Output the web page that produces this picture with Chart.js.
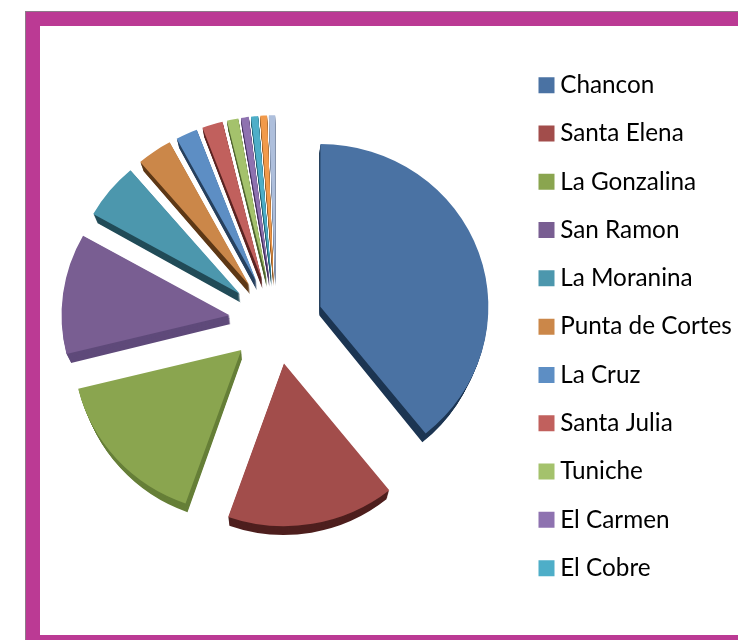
<!DOCTYPE html>
<html><head><meta charset="utf-8">
<style>
html,body{margin:0;padding:0;background:#fff;overflow:hidden;width:738px;height:640px}
#frame{position:absolute;left:26px;top:12px;width:760px;height:609px;border:14px solid #bb3a94;box-shadow:-1px -1px 0 #8d7a88;box-sizing:content-box}
canvas{position:absolute;left:0;top:0}
</style>
<script src="https://cdn.jsdelivr.net/npm/chart.js@4/dist/chart.umd.min.js"></script>
</head><body>
<div id="frame"></div>
<canvas id="c" width="738" height="640"></canvas>
<script>
const categories=["Chancon","Santa Elena","La Gonzalina","San Ramon","La Moranina","Punta de Cortes","La Cruz","Santa Julia","Tuniche","El Carmen","El Cobre","",""];
const shares=[39.3,16.2,15.8,12,5.6,3.4,2.1,2,1.1,0.75,0.7,0.65,0.6];
const faceColors=["#4a72a3","#a24d4b","#8aa54f","#795e92","#4c97ad","#cb8749","#5d8ec4","#c1605d","#a4c26c","#8e72b0","#4eaec8","#f19a4b","#aebfdc"];
const wallColors=["#1c3552","#4e1f1e","#667f38","#5f4a7a","#224c58","#5d3816","#27415f","#5c2523","#4f6330","#43305c","#1f5a6a","#8a5420","#6b7b95"];
const explodeX=46.4, explodeY=44, depthPx=9, squashX=1.012, squashY=0.98, wallShrinkX=0.022;
let pieCx=0, pieCy=0;
const explode={id:'explode',afterDatasetsUpdate(chart){
  chart.getDatasetMeta(0).data.forEach(arc=>{
    pieCx=arc.x; pieCy=arc.y;
    const mid=(arc.startAngle+arc.endAngle)/2;
    arc.x+=Math.cos(mid)*explodeX;
    arc.y+=Math.sin(mid)*explodeY;
  });
}};
const walls={id:'walls',beforeDatasetsDraw(chart){
  const c=chart.ctx;
  c.save();
  c.translate(pieCx,pieCy);c.scale(squashX,squashY);c.translate(-pieCx,-pieCy);
  chart.getDatasetMeta(0).data.forEach((arc,i)=>{
    const w=Object.create(arc);
    w.options=Object.assign({},arc.options,{backgroundColor:wallColors[i],borderWidth:0});
    for(let d=depthPx;d>=1;d--){
      const t=d/depthPx;
      c.save();
      c.translate(pieCx,pieCy+d);
      c.scale(1-wallShrinkX*t,1);
      c.translate(-pieCx,-pieCy);
      w.draw(c);
      c.restore();
    }
  });
},afterDatasetsDraw(chart){chart.ctx.restore();}};
const legendShift={id:'legendShift',afterLayout(chart){
  const l=chart.legend;const dx=521-l.left;
  l.left+=dx;l.right+=dx;l.top+=47;l.bottom+=47;
}};
new Chart(document.getElementById('c'),{
  type:'pie',
  data:{labels:categories,datasets:[{data:shares,backgroundColor:faceColors,borderWidth:0,clip:false}]},
  options:{responsive:false,animation:false,rotation:0,radius:166,
    layout:{padding:{left:35,right:0,top:2,bottom:0}},
    plugins:{tooltip:{enabled:false},
      legend:{position:'right',align:'start',
        labels:{boxWidth:3,boxHeight:3,padding:24,color:'#333',font:{family:'Lato',size:24.3},
          filter:i=>i.text!=='',
          generateLabels(chart){return categories.map((t,i)=>({text:t,index:i,fillStyle:faceColors[i],strokeStyle:faceColors[i],lineWidth:13,hidden:false}));}
        }}}},
  plugins:[explode,walls,legendShift]
});
</script></body></html>
